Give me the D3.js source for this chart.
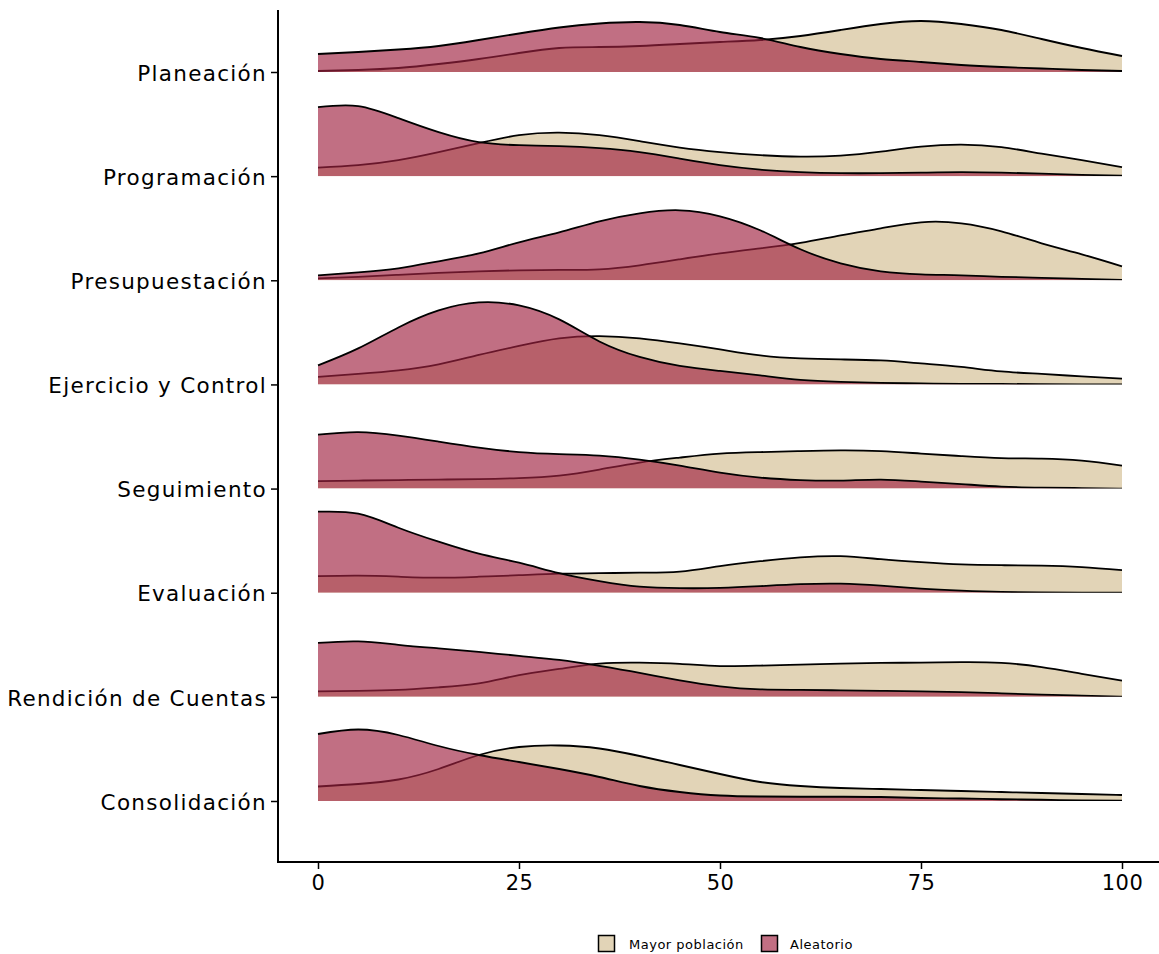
<!DOCTYPE html>
<html>
<head>
<meta charset="utf-8">
<script src="https://cdn.jsdelivr.net/npm/d3@7"></script>
<style>
  body { margin: 0; background: #fff; }
  svg { display: block; }
  text { font-family: "DejaVu Sans", "Open Sans", sans-serif; fill: #000; }
</style>
</head>
<body>
<svg id="chart" width="1159" height="954"></svg>
<script>
// Categories (top to bottom)
const categories = ["Planeación", "Programación", "Presupuestación", "Ejercicio y Control",
                    "Seguimiento", "Evaluación", "Rendición de Cuentas", "Consolidación"];
const seriesNames = ["Mayor población", "Aleatorio"];
// grid of x values at which densities were read
const xGrid = [0,5,10,15,20,25,30,35,40,45,50,55,60,65,70,75,80,85,90,95,100];
const xTicks = [0, 25, 50, 75, 100];

// Density estimates (percent per unit), Mayor población
const mayorPlaneacion      = [0.04,0.08,0.16,0.32,0.52,0.76,0.96,1.00,1.04,1.12,1.20,1.28,1.44,1.68,1.92,2.04,1.92,1.68,1.32,0.96,0.64];
const mayorProgramacion    = [0.34,0.44,0.64,0.96,1.32,1.64,1.74,1.64,1.40,1.14,0.96,0.84,0.78,0.82,0.98,1.18,1.26,1.16,0.90,0.64,0.36];
const mayorPresupuestacion = [0.08,0.14,0.22,0.30,0.36,0.40,0.42,0.44,0.60,0.84,1.08,1.28,1.50,1.80,2.08,2.32,2.28,1.96,1.48,1.04,0.56];
const mayorEjercicio       = [0.30,0.42,0.56,0.80,1.18,1.54,1.84,1.93,1.84,1.64,1.40,1.16,1.04,1.00,0.96,0.84,0.70,0.52,0.42,0.32,0.23];
const mayorSeguimiento     = [0.30,0.32,0.34,0.36,0.38,0.42,0.52,0.76,1.04,1.24,1.40,1.46,1.50,1.53,1.50,1.40,1.30,1.22,1.20,1.12,0.92];
const mayorEvaluacion      = [0.66,0.68,0.64,0.60,0.64,0.70,0.76,0.78,0.80,0.84,1.06,1.26,1.41,1.46,1.34,1.22,1.13,1.10,1.08,1.02,0.90];
const mayorRendicion       = [0.22,0.24,0.28,0.38,0.54,0.87,1.12,1.33,1.37,1.32,1.23,1.25,1.29,1.33,1.36,1.37,1.39,1.36,1.19,0.92,0.65];
const mayorConsolidacion   = [0.58,0.68,0.86,1.28,1.84,2.16,2.22,2.10,1.80,1.44,1.08,0.76,0.60,0.52,0.48,0.44,0.40,0.36,0.32,0.28,0.24];

// Density estimates (percent per unit), Aleatorio
const aleaPlaneacion       = [0.72,0.80,0.90,1.04,1.28,1.54,1.78,1.94,2.00,1.88,1.60,1.36,1.00,0.72,0.52,0.40,0.28,0.20,0.14,0.08,0.04];
const aleaProgramacion     = [2.76,2.80,2.32,1.76,1.36,1.24,1.20,1.12,0.96,0.70,0.44,0.26,0.16,0.12,0.12,0.14,0.16,0.14,0.10,0.05,0.02];
const aleaPresupuestacion  = [0.20,0.32,0.48,0.76,1.08,1.52,1.92,2.36,2.68,2.80,2.56,2.00,1.24,0.68,0.36,0.24,0.20,0.14,0.10,0.06,0.02];
const aleaEjercicio        = [0.76,1.44,2.28,2.96,3.28,3.16,2.60,1.72,1.10,0.74,0.54,0.36,0.18,0.10,0.06,0.04,0.02,0.02,0.01,0.00,0.00];
const aleaSeguimiento      = [2.16,2.26,2.12,1.88,1.64,1.46,1.38,1.32,1.16,0.92,0.64,0.44,0.34,0.32,0.36,0.28,0.18,0.08,0.04,0.02,0.00];
const aleaEvaluacion       = [3.24,3.16,2.60,2.04,1.56,1.20,0.78,0.46,0.24,0.18,0.19,0.26,0.34,0.36,0.28,0.16,0.08,0.03,0.01,0.00,0.00];
const aleaRendicion        = [2.16,2.22,2.08,1.94,1.80,1.64,1.48,1.24,0.96,0.66,0.42,0.30,0.28,0.26,0.24,0.22,0.19,0.14,0.09,0.05,0.01];
const aleaConsolidacion    = [2.68,2.86,2.64,2.20,1.84,1.56,1.28,0.96,0.60,0.36,0.22,0.18,0.17,0.17,0.16,0.12,0.10,0.07,0.05,0.02,0.01];

const mayorSeries = [mayorPlaneacion, mayorProgramacion, mayorPresupuestacion, mayorEjercicio,
                     mayorSeguimiento, mayorEvaluacion, mayorRendicion, mayorConsolidacion];
const aleaSeries  = [aleaPlaneacion, aleaProgramacion, aleaPresupuestacion, aleaEjercicio,
                     aleaSeguimiento, aleaEvaluacion, aleaRendicion, aleaConsolidacion];

const colors = { mayor: "#e2d4b7", alea: "#9f2241" };

const svg = d3.select("#chart");

const x = d3.scaleLinear().domain([0, 100]).range([318, 1122]);
const y = d3.scalePoint().domain(categories).range([72, 801]);
const h = d3.scaleLinear().domain([0, 4]).range([0, 100]);

const curve = d3.curveNatural;
const defs = svg.append("defs");

function drawRidge(g, vals, base, fill, opacity, clipId) {
  const pts = xGrid.map((xv, i) => [xv, Math.max(0, vals[i])]);
  const area = d3.area().curve(curve)
    .x(d => x(d[0])).y0(base).y1(d => base - h(d[1]));
  const line = d3.line().curve(curve)
    .x(d => x(d[0])).y(d => base - h(d[1]));
  const cg = g.append("g").attr("clip-path", `url(#${clipId})`);
  cg.append("path").attr("d", area(pts)).attr("fill", fill).attr("fill-opacity", opacity);
  cg.append("path").attr("d", line(pts)).attr("fill", "none")
    .attr("stroke", "#000").attr("stroke-width", 1.8).attr("stroke-linejoin", "round");
}

const ridges = svg.append("g");
categories.forEach((cat, i) => {
  const base = y(cat);
  const clipId = "clip" + i;
  defs.append("clipPath").attr("id", clipId).append("rect")
    .attr("x", x(0) - 2).attr("y", base - 200).attr("width", x(100) - x(0) + 4).attr("height", 200);
  const g = ridges.append("g");
  drawRidge(g, mayorSeries[i], base, colors.mayor, 1, clipId);
  drawRidge(g, aleaSeries[i], base, colors.alea, 0.65, clipId);
});

// Axes
const yAxis = d3.axisLeft(y).tickSize(7).tickPadding(4);
const yg = svg.append("g").attr("transform", "translate(278,0)").call(yAxis);
yg.select(".domain").remove();
yg.append("line").attr("x1", 0).attr("x2", 0).attr("y1", 10).attr("y2", 863)
  .attr("stroke", "#000").attr("stroke-width", 2);
yg.selectAll(".tick line").attr("stroke", "#000").attr("stroke-width", 1.5);
yg.selectAll(".tick text").style("font-size", "21.5px").style("letter-spacing", "1.3px")
  .attr("dy", "0.38em");

const xAxis = d3.axisBottom(x).tickValues(xTicks).tickSize(7).tickPadding(6);
const xg = svg.append("g").attr("transform", "translate(0,862)").call(xAxis);
xg.select(".domain").remove();
xg.append("line").attr("x1", 277).attr("x2", 1159).attr("y1", 0).attr("y2", 0)
  .attr("stroke", "#000").attr("stroke-width", 2);
xg.selectAll(".tick line").attr("stroke", "#000").attr("stroke-width", 1.5);
xg.selectAll(".tick text").style("font-size", "21px").style("letter-spacing", "0.5px");

// Legend
const legend = svg.append("g").attr("transform", "translate(598,935)");
const legItems = [
  { name: seriesNames[0], fill: colors.mayor, op: 1, x: 0, tx: 31 },
  { name: seriesNames[1], fill: colors.alea, op: 0.65, x: 163, tx: 192 }
];
legItems.forEach(it => {
  legend.append("rect").attr("x", it.x + 0.5).attr("y", 0.5).attr("width", 16).attr("height", 16)
    .attr("fill", "#fff");
  legend.append("rect").attr("x", it.x + 0.5).attr("y", 0.5).attr("width", 16).attr("height", 16)
    .attr("fill", it.fill).attr("fill-opacity", it.op)
    .attr("stroke", "#000").attr("stroke-width", 1.5);
  legend.append("text").attr("x", it.tx).attr("y", 9).attr("dy", "0.35em")
    .style("font-size", "13px").style("letter-spacing", "0.5px").text(it.name);
});
</script>
</body>
</html>
